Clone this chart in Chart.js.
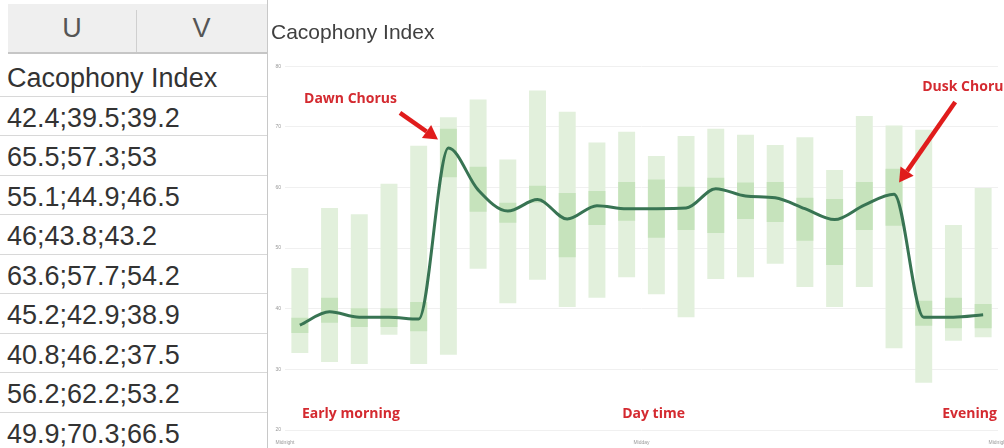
<!DOCTYPE html>
<html>
<head>
<meta charset="utf-8">
<script src="https://cdn.jsdelivr.net/npm/chart.js@4.4.0/dist/chart.umd.min.js"></script>
<style>
html, body { margin: 0; padding: 0; width: 1004px; height: 448px; overflow: hidden; background: #fff; }
#sheet { position: absolute; left: 0; top: 0; width: 268px; height: 448px; font-family: "Liberation Sans", Arial, sans-serif; }
.hdr { position: absolute; top: 4px; height: 48px; background: #efefef; border-bottom: 2px solid #c6c6c6; color: #555; font-size: 27px; line-height: 48px; text-align: center; }
.sep { position: absolute; width: 1px; background: #cfcfcf; }
.row { position: absolute; left: 0; width: 260px; height: 38.5px; border-bottom: 1px solid #d8d8d8; color: #333; font-size: 27px; line-height: 42px; padding-left: 7px; box-sizing: content-box; white-space: nowrap; }
#wrap { position: absolute; left: 268px; top: 0; width: 760px; height: 448px; }
</style>
</head>
<body>
<div id="sheet"></div>
<div id="wrap"><canvas id="chart"></canvas></div>
<script>
// spreadsheet fragment
const sheetColumns = ['U', 'V'];
const sheetRows = [
    'Cacophony Index',
    '42.4;39.5;39.2',
    '65.5;57.3;53',
    '55.1;44.9;46.5',
    '46;43.8;43.2',
    '63.6;57.7;54.2',
    '45.2;42.9;38.9',
    '40.8;46.2;37.5',
    '56.2;62.2;53.2',
    '49.9;70.3;66.5'
];

// chart data, one value per hour of the day
const hours = ['00:00', '01:00', '02:00', '03:00', '04:00', '05:00', '06:00', '07:00',
    '08:00', '09:00', '10:00', '11:00', '12:00', '13:00', '14:00', '15:00',
    '16:00', '17:00', '18:00', '19:00', '20:00', '21:00', '22:00', '23:00'];
const rangeLow  = [32.7, 31.2, 30.9, 35.7, 30.9, 32.4, 46.6, 40.9, 44.8, 40.3, 41.8, 45.2,
    42.4, 38.6, 44.9, 45.2, 47.4, 43.6, 40.3, 43.6, 33.5, 27.8, 34.7, 35.3];
const rangeHigh = [46.7, 56.6, 55.6, 60.6, 66.9, 71.6, 74.5, 64.6, 76.0, 72.5, 67.4, 69.2,
    65.2, 68.5, 69.7, 68.7, 67.0, 68.3, 62.9, 71.8, 70.2, 69.5, 53.8, 59.9];
const midLow    = [36.0, 37.7, 37.0, 37.0, 36.3, 61.7, 56.0, 54.2, 57.5, 48.5, 53.8, 54.5,
    51.7, 53.0, 52.5, 54.8, 54.3, 51.2, 47.2, 53.0, 53.7, 37.2, 36.8, 36.8];
const midHigh   = [38.5, 41.8, 40.1, 40.1, 41.1, 69.7, 63.4, 57.5, 60.3, 59.1, 59.4, 60.9,
    61.3, 60.1, 61.6, 60.8, 60.9, 58.3, 58.1, 60.9, 63.1, 41.3, 41.8, 40.8];
const median    = [37.3, 39.5, 38.6, 38.6, 38.3, 66.5, 59.6, 56.1, 58.0, 54.8, 57.0, 56.5,
    56.5, 56.6, 59.8, 58.6, 58.3, 56.5, 54.7, 57.1, 58.9, 38.6, 38.6, 39.0];

const tickHours = [0, 12, 24];
const tickNames = ['Midnight', 'Midday', 'Midnight'];

// notes drawn on the chart (hour, value)
const notes = [
    { text: 'Dawn Chorus', x: 0.64, y: 74.6 },
    { text: 'Dusk Chorus', x: 21.45, y: 76.6 },
    { text: 'Early morning', x: 0.57, y: 22.6 },
    { text: 'Day time', x: 11.35, y: 22.6 },
    { text: 'Evening', x: 22.12, y: 22.6 }
];
const arrows = [
    { from: [3.87, 72.3], to: [5.15, 67.9] },
    { from: [22.56, 74.1], to: [20.67, 60.8] }
];

function buildSheet() {
    const sheet = document.getElementById('sheet');
    const colEdges = [8, 136, 267];
    sheetColumns.forEach((name, i) => {
        const h = document.createElement('div');
        h.className = 'hdr';
        h.style.left = colEdges[i] + 'px';
        h.style.width = (colEdges[i + 1] - colEdges[i]) + 'px';
        h.textContent = name;
        sheet.appendChild(h);
    });
    const s1 = document.createElement('div');
    s1.className = 'sep';
    s1.style.cssText = 'left:136px;top:10px;height:42px;';
    sheet.appendChild(s1);

    sheetRows.forEach((txt, i) => {
        const r = document.createElement('div');
        r.className = 'row';
        r.style.top = (57 + i * 39.5) + 'px';
        r.textContent = txt;
        sheet.appendChild(r);
    });
    const s2 = document.createElement('div');
    s2.className = 'sep';
    s2.style.cssText = 'left:267px;top:0;height:448px;background:#c8c8c8;';
    sheet.appendChild(s2);
}

const notesPlugin = {
    id: 'notes',
    afterDatasetsDraw(chart) {
        const { ctx, scales: { x, y } } = chart;
        ctx.save();
        ctx.font = 'bold 14px "Open Sans", sans-serif';
        ctx.fillStyle = '#d42a30';
        ctx.textBaseline = 'middle';
        ctx.textAlign = 'left';
        notes.forEach(n => ctx.fillText(n.text, x.getPixelForValue(n.x), y.getPixelForValue(n.y)));

        ctx.strokeStyle = '#e01c1c';
        ctx.fillStyle = '#e01c1c';
        ctx.lineWidth = 4.5;
        arrows.forEach(a => {
            const x0 = x.getPixelForValue(a.from[0]), y0 = y.getPixelForValue(a.from[1]);
            const x1 = x.getPixelForValue(a.to[0]), y1 = y.getPixelForValue(a.to[1]);
            const ang = Math.atan2(y1 - y0, x1 - x0);
            const headLen = 14, headW = 8;
            const bx = x1 - Math.cos(ang) * headLen, by = y1 - Math.sin(ang) * headLen;
            ctx.beginPath();
            ctx.moveTo(x0, y0);
            ctx.lineTo(bx, by);
            ctx.stroke();
            ctx.beginPath();
            ctx.moveTo(x1, y1);
            ctx.lineTo(bx + Math.sin(ang) * headW, by - Math.cos(ang) * headW);
            ctx.lineTo(bx - Math.sin(ang) * headW, by + Math.cos(ang) * headW);
            ctx.closePath();
            ctx.fill();
        });
        ctx.restore();
    }
};

function initChart() {
    const ctx = document.getElementById('chart').getContext('2d');
    new Chart(ctx, {
        type: 'bar',
        data: {
            datasets: [
                {
                    type: 'line',
                    label: 'Median',
                    data: hours.map((h, i) => ({ x: i + 0.5, y: median[i] })),
                    borderColor: '#387453',
                    borderWidth: 3,
                    pointRadius: 0,
                    cubicInterpolationMode: 'monotone',
                    order: 0
                },
                {
                    label: 'Middle range',
                    data: hours.map((h, i) => ({ x: i + 0.5, y: [midLow[i], midHigh[i]] })),
                    backgroundColor: '#c6e3bc',
                    grouped: false,
                    order: 1
                },
                {
                    label: 'Full range',
                    data: hours.map((h, i) => ({ x: i + 0.5, y: [rangeLow[i], rangeHigh[i]] })),
                    backgroundColor: '#e2f0dc',
                    grouped: false,
                    order: 2
                }
            ]
        },
        options: {
            responsive: true,
            maintainAspectRatio: false,
            animation: false,
            layout: { padding: { left: 3, right: 30, top: 0, bottom: 0 } },
            datasets: { bar: { barPercentage: 0.57, categoryPercentage: 1 } },
            plugins: {
                legend: { display: false },
                tooltip: { enabled: false },
                title: {
                    display: true,
                    text: 'Cacophony Index',
                    align: 'start',
                    color: '#404040',
                    font: { family: '"Liberation Sans", Arial, sans-serif', size: 21, weight: 'normal' },
                    padding: { top: 21, bottom: 20 }
                }
            },
            scales: {
                x: {
                    type: 'linear',
                    offset: false,
                    min: 0,
                    max: 24,
                    grid: { display: false, offset: false },
                    border: { display: false },
                    ticks: {
                        stepSize: 12,
                        autoSkip: false,
                        maxRotation: 0,
                        padding: 2,
                        color: '#999',
                        font: { size: 5 },
                        callback: v => tickNames[tickHours.indexOf(v)] || ''
                    },
                    afterFit: s => { s.height = 18; }
                },
                y: {
                    min: 20,
                    max: 80,
                    grid: { color: '#f0f0f0', drawTicks: false },
                    border: { display: false },
                    ticks: { stepSize: 10, padding: 4, color: '#999', font: { size: 5 } },
                    afterFit: s => { s.width = 14; }
                }
            }
        },
        plugins: [notesPlugin]
    });
}

buildSheet();
initChart();
</script>
</body>
</html>
